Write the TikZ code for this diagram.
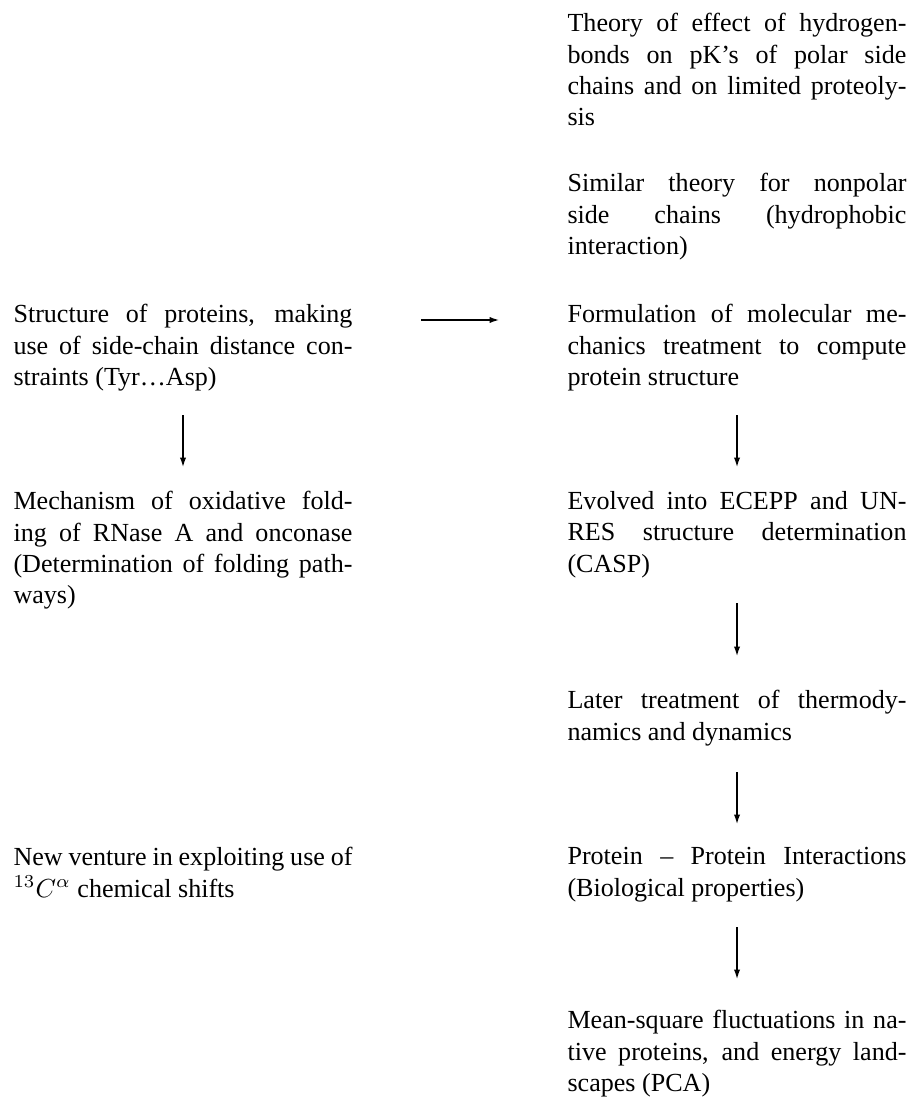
\documentclass[tikz,border=0pt]{standalone}
\usepackage{fontspec}
\setmainfont{Liberation Serif}
\usetikzlibrary{calc,arrows.meta}
\tolerance=9999
\hbadness=10000
\newcommand{\pxsize}{0.3835pt}
\tikzset{
	blurb/.style={anchor=north west, text width=130pt, align=justify, inner sep=0pt},
	flow/.style={thick, -{Latex[length=4pt,width=2.4pt]}}
}

\begin{document}
\begin{tikzpicture}[x=\pxsize,y=-\pxsize]
	\useasboundingbox (0,0) rectangle (912,1099);

	\node[blurb] (theory) at (567,13) {Theory of effect of hydrogen-\linebreak bonds on pK's of polar side\linebreak chains and on limited proteoly-\linebreak sis};
	\node[blurb] (similar) at (567,173) {Similar theory for nonpolar\linebreak side chains (hydrophobic\linebreak interaction)};
	\node[blurb] (structure) at (13,304) {Structure of proteins, making\linebreak use of side-chain distance con-\linebreak straints (Tyr\ldots Asp)};
	\node[blurb] (formulation) at (567,304) {Formulation of molecular me-\linebreak chanics treatment to compute\linebreak protein structure};
	\node[blurb] (mechanism) at (13,491) {Mechanism of oxidative fold-\linebreak ing of RNase A and onconase\linebreak (Determination of folding path-\linebreak ways)};
	\node[blurb] (evolved) at (567,491) {Evolved into ECEPP and UN-\linebreak RES structure determination\linebreak (CASP)};
	\node[blurb] (later) at (567,690) {Later treatment of thermody-\linebreak namics and dynamics};
	\node[blurb] (venture) at (13,847) {New venture in exploiting use of\linebreak $^{13}C^{\alpha}$ chemical shifts};
	\node[blurb] (interact) at (567,847) {Protein -- Protein Interactions\linebreak (Biological properties)};
	\node[blurb] (fluct) at (567,1010) {Mean-square fluctuations in na-\linebreak tive proteins, and energy land-\linebreak scapes (PCA)};

	\draw[flow] ($(structure.north east)+(68,16)$) -- ($(formulation.north west)+(-67,16)$);
	\draw[flow] ($(structure.north)+(0,111)$) -- ($(mechanism.north)+(0,-23)$);
	\draw[flow] ($(formulation.north)+(0,111)$) -- ($(evolved.north)+(0,-23)$);
	\draw[flow] ($(evolved.north)+(0,112)$) -- ($(later.north)+(0,-33)$);
	\draw[flow] ($(later.north)+(0,82)$) -- ($(interact.north)+(0,-22)$);
	\draw[flow] ($(interact.north)+(0,80)$) -- ($(fluct.north)+(0,-30)$);

\end{tikzpicture}
\end{document}
